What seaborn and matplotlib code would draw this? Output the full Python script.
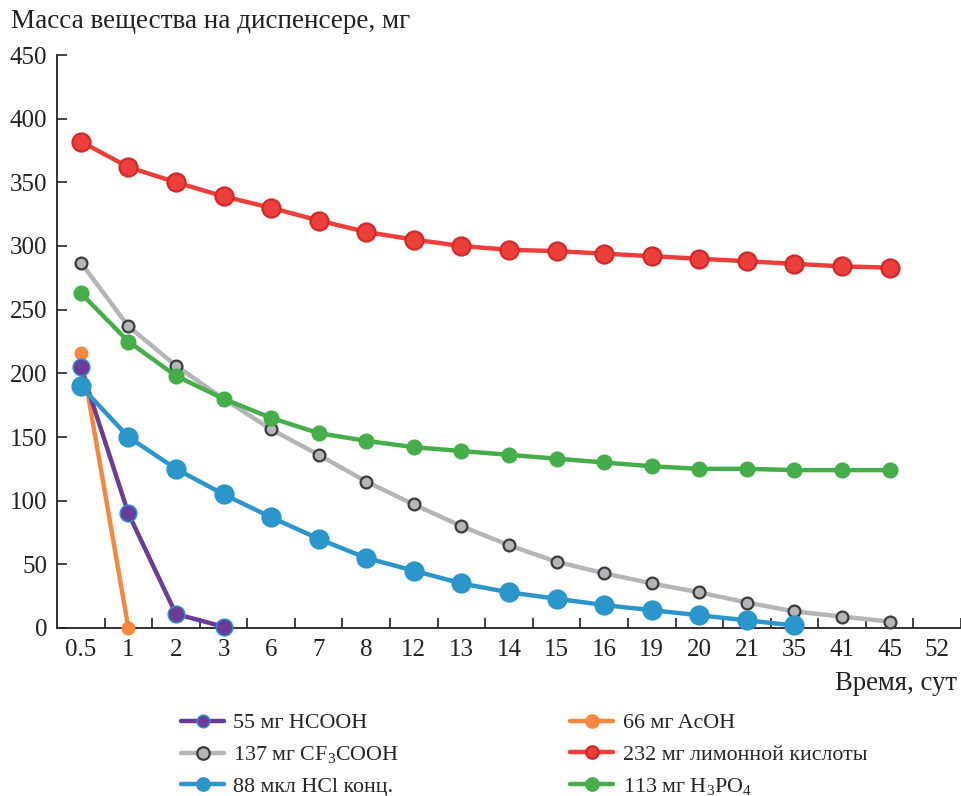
import matplotlib
matplotlib.use("Agg")
import matplotlib.pyplot as plt
import seaborn as sns
import pandas as pd
import numpy as np
from matplotlib.ticker import FixedLocator, FixedFormatter

# ---- data ----
time_labels = ["0.5", "1", "2", "3", "6", "7", "8", "12", "13", "14", "15",
               "16", "19", "20", "21", "35", "41", "45", "52"]

hcooh_t = ["0.5", "1", "2", "3"]
hcooh_v = [205, 90, 11, 1]

acoh_t = ["0.5", "1"]
acoh_v = [216, 0]

cf3_t = ["0.5", "1", "2", "3", "6", "7", "8", "12", "13", "14", "15",
         "16", "19", "20", "21", "35", "41", "45"]
cf3_v = [287, 237, 206, 180, 156, 136, 115, 97, 80, 65, 52, 43, 35, 28, 20, 13, 9, 5]

citric_t = cf3_t
citric_v = [382, 362, 350, 339, 330, 320, 311, 305, 300, 297, 296, 294, 292,
            290, 288, 286, 284, 283]

hcl_t = ["0.5", "1", "2", "3", "6", "7", "8", "12", "13", "14", "15",
         "16", "19", "20", "21", "35"]
hcl_v = [190, 150, 125, 105, 87, 70, 55, 45, 35, 28, 23, 18, 14, 10, 6, 2]

h3po4_t = cf3_t
h3po4_v = [263, 225, 198, 180, 165, 153, 147, 142, 139, 136, 133, 130, 127,
           125, 125, 124, 124, 124]

names = ["55 мг HCOOH", "137 мг CF$_3$COOH", "88 мкл HCl конц.",
         "66 мг AcOH", "232 мг лимонной кислоты", "113 мг H$_3$PO$_4$"]

sns.set_theme(style="white")
plt.rcParams["font.family"] = ["Liberation Serif", "DejaVu Serif"]
plt.rcParams["mathtext.fontset"] = "custom"
plt.rcParams["mathtext.rm"] = "Liberation Serif"
plt.rcParams["mathtext.default"] = "regular"

fig = plt.figure(figsize=(9.62, 7.96), dpi=100)
ax = fig.add_axes([57/962, 1-628/796, (961-57)/962, (628-55)/796])

def pos(ts):
    return [time_labels.index(t) for t in ts]

series = [
    # (name, times, values, line color, face, edge, marker size, edge width, zorder)
    (names[1], cf3_t, cf3_v, "#b4b5b8", "#b4b5b8", "#3a3a3a", 8.5, 1.6, 2),
    (names[5], h3po4_t, h3po4_v, "#45ae4a", "#45ae4a", "#45ae4a", 10, 1.6, 3),
    (names[4], citric_t, citric_v, "#ec3f3c", "#ec3f3c", "#d12a2a", 13, 1.6, 4),
    (names[3], acoh_t, acoh_v, "#f5873e", "#f5873e", "#f5873e", 8.5, 1.6, 5),
    (names[0], hcooh_t, hcooh_v, "#6a3b98", "#6a3b98", "#2a8fcb", 12, 1.1, 6),
    (names[2], hcl_t, hcl_v, "#2b96cc", "#2b96cc", "#2b96cc", 13, 1.6, 7),
]

for name, ts, vs, lc, fc, ec, ms, mew, z in series:
    df = pd.DataFrame({"x": pos(ts), "y": vs})
    sns.lineplot(data=df, x="x", y="y", ax=ax, color=lc, linewidth=3.2,
                 marker="o", markersize=ms, markerfacecolor=fc,
                 markeredgecolor=ec, markeredgewidth=mew, zorder=z,
                 label=name, legend=False, clip_on=False)

ax.set_xlim(-0.5, len(time_labels) - 0.5)
ax.set_ylim(0, 450)
ax.set_xlabel("")
ax.set_ylabel("")

for s in ["top", "right"]:
    ax.spines[s].set_visible(False)
for s in ["left", "bottom"]:
    ax.spines[s].set_color("#222222")
    ax.spines[s].set_linewidth(1.3)
    ax.spines[s].set_zorder(1)

ax.xaxis.set_major_locator(FixedLocator(range(len(time_labels))))
ax.xaxis.set_major_formatter(FixedFormatter(time_labels))
ax.xaxis.set_minor_locator(FixedLocator(np.arange(0.5, len(time_labels), 1.0)))
ax.tick_params(axis="x", which="major", length=0, pad=8, labelsize=18,
               colors="#222222")
ax.tick_params(axis="x", which="minor", length=7, direction="in",
               width=1.2, color="#222222", bottom=True)
ax.set_yticks(range(0, 451, 50))
ax.tick_params(axis="y", which="major", length=7, direction="in",
               width=1.2, labelsize=18, pad=7, colors="#222222", left=True)

fig.text(11/962, 1-22/796, "Масса вещества на диспенсере, мг",
         fontsize=19.5, ha="left", va="center", color="#222222")
fig.text(957/962, 1-683/796, "Время, сут", fontsize=19.3, ha="right",
         va="center", color="#222222")

handles, labels = ax.get_legend_handles_labels()
order = [names[0], names[1], names[2], names[3], names[4], names[5]]
hmap = dict(zip(labels, handles))
leg = fig.legend([hmap[n] for n in order], order, ncol=2,
                 loc="upper left", bbox_to_anchor=(181/962, 1-713/796),
                 frameon=False, fontsize=15.8, handlelength=1.96,
                 columnspacing=7.8, labelspacing=0.5, handletextpad=0.42,
                 borderaxespad=0, borderpad=0)
for h in leg.legend_handles:
    h.set_markersize(9)

fig.savefig("out.png", dpi=100)
